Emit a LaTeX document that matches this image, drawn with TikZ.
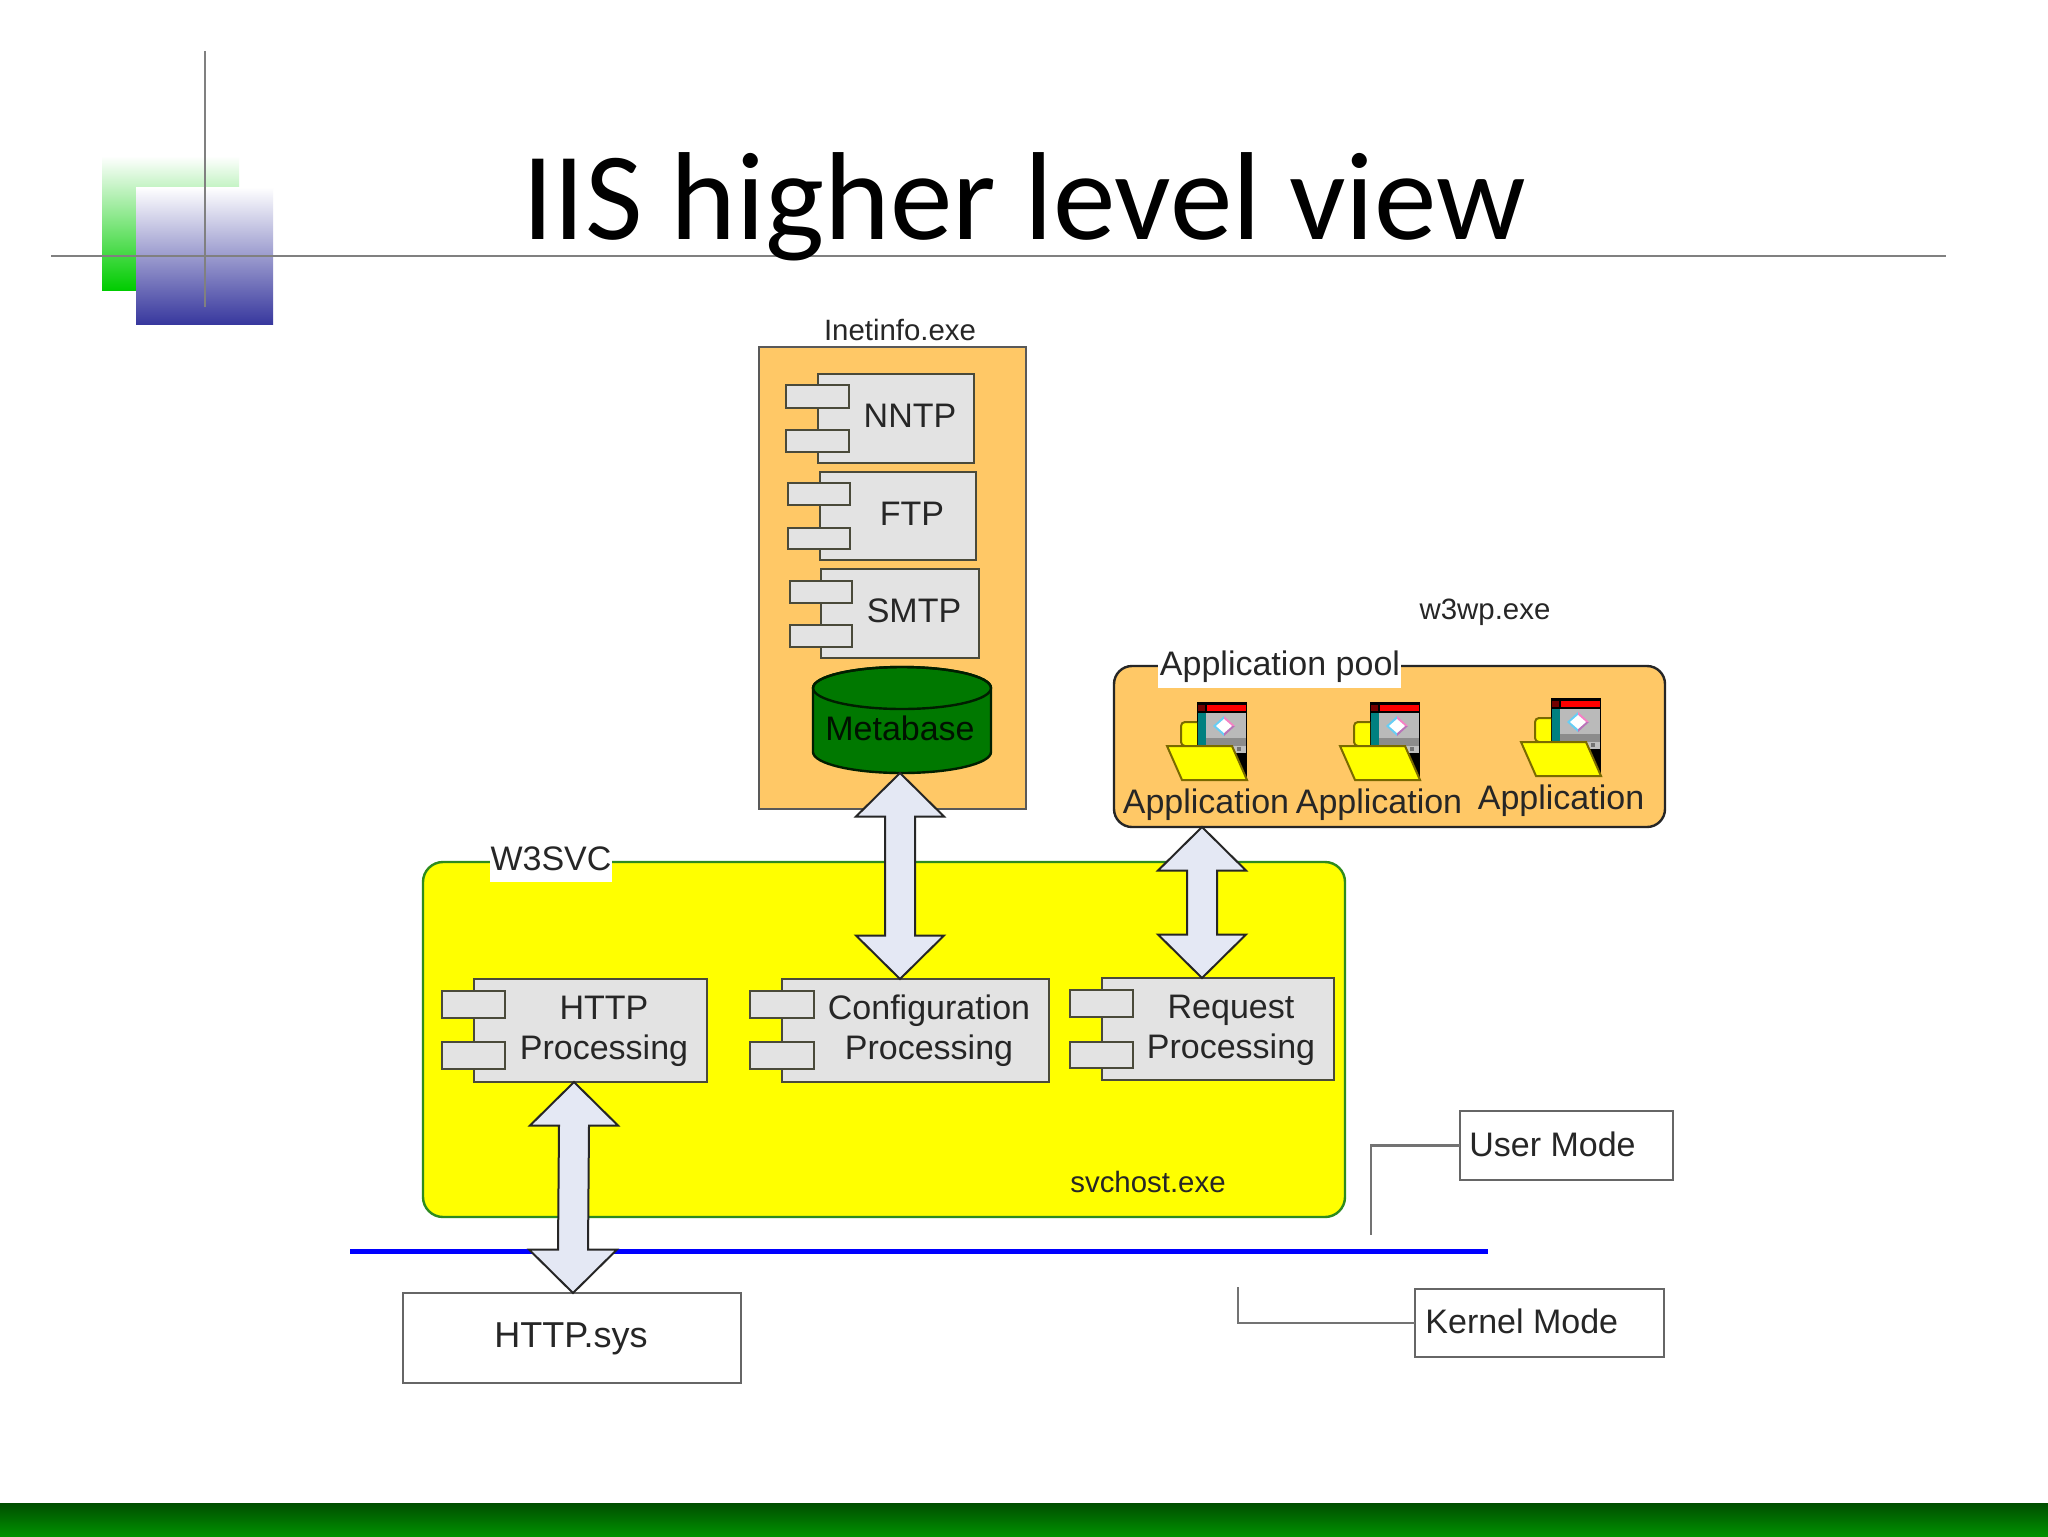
\documentclass[tikz,border=0pt]{standalone}
\usepackage{fontspec}
\setmainfont{Liberation Sans}
\newfontfamily\titlefont{Carlito}
\usetikzlibrary{calc}
\definecolor{txt}{HTML}{262626}
\definecolor{procfill}{HTML}{E3E3E3}
\definecolor{procline}{HTML}{4A4A3A}
\definecolor{orangefill}{HTML}{FFC866}
\definecolor{arrowfill}{HTML}{E4E8F4}
\definecolor{leaf}{HTML}{2E8B1E}
\definecolor{foldline}{HTML}{7A6A00}
\definecolor{pureyellow}{RGB}{255,255,0}
\definecolor{purered}{RGB}{255,0,0}
\definecolor{pureblue}{RGB}{0,0,255}
\definecolor{gridgreen}{RGB}{0,204,0}
\definecolor{barrel}{RGB}{0,120,0}
\definecolor{teal2}{RGB}{0,128,128}
\tikzset{
  x=0.5pt,y=-0.5pt,
  rectbox/.style={rectangle,inner sep=0pt,outer sep=0pt},
  procbody/.style={rectbox,draw=procline,line width=1.2pt,fill=procfill},
  proctab/.style={rectbox,draw=procline,line width=1.2pt,fill=procfill},
  plainbox/.style={rectbox,draw=black!60,line width=1.2pt,fill=white},
  lab/.style={anchor=base,inner sep=0pt,text=txt,font=\fontsize{17}{20}\selectfont},
  smalllab/.style={anchor=base,inner sep=0pt,text=txt,font=\fontsize{14.7}{18}\selectfont},
  blockarrow/.style={draw=black!85,line width=1pt,fill=arrowfill,line join=miter},
  leader/.style={draw=black!55,line width=1.2pt},
  rule/.style={draw=black!50,line width=1.2pt},
}
% name, style, x1, y1, x2, y2 (reference pixels)
\newcommand{\boxat}[6]{%
  \pgfmathsetmacro{\bw}{(#5-#3)*0.5}%
  \pgfmathsetmacro{\bh}{(#6-#4)*0.5}%
  \pgfmathsetmacro{\bx}{(#3+#5)/2}%
  \pgfmathsetmacro{\by}{(#4+#6)/2}%
  \node[#2,minimum width=\bw pt,minimum height=\bh pt] (#1) at (\bx,\by) {};}
% name, body x1,y1,x2,y2, tab x1,x2, tab1 y1,y2, tab2 y1,y2
\newcommand{\component}[6]{%
  \boxat{#1}{procbody}{#2}{#3}{#4}{#5}%
  \componenttabs{#1}#6}
\newcommand{\componenttabs}[7]{%
  \boxat{#1t1}{proctab}{#2}{#4}{#3}{#5}%
  \boxat{#1t2}{proctab}{#2}{#6}{#3}{#7}}
\newcommand{\blockarrow}[2]{%
  \draw[blockarrow] let \p1=#1, \p2=#2 in
    (\p1) -- (\x1+22pt,\y1-21.75pt) -- (\x1+7.5pt,\y1-21.75pt)
    -- (\x2+7.5pt,\y2+21.75pt) -- (\x2+22pt,\y2+21.75pt)
    -- (\p2) -- (\x2-22pt,\y2+21.75pt) -- (\x2-7.5pt,\y2+21.75pt)
    -- (\x1-7.5pt,\y1-21.75pt) -- (\x1-22pt,\y1-21.75pt) -- cycle;}
\newcommand{\appicon}[2]{%
  \begin{scope}[shift={(#1,#2)}]
    \fill[black] (30,0) rectangle (80,78);
    \fill[purered] (40,3) rectangle (79,9);
    \fill[purered!45!black] (31,3) rectangle (38,9);
    \fill[teal2] (31,11) rectangle (39,43);
    \fill[black!27] (39,11) rectangle (79,36);
    \fill[black!45] (39,36) rectangle (79,44);
    \fill[black!25] (58,44) rectangle (79,51);
    \fill[black!55] (70,45) rectangle (74,49);
    \fill[cyan!60!white] (46,24) -- (57,14) -- (57,34) -- cycle;
    \fill[magenta!50!white] (57,14) -- (68,24) -- (57,24) -- cycle;
    \fill[violet!55!white] (57,34) -- (68,24) -- (57,24) -- cycle;
    \fill[white] (49,24) -- (57,17) -- (65,24) -- (57,31) -- cycle;
    \draw[foldline,line width=1pt,fill=pureyellow,rounded corners=2pt] (30,44) -- (14,44) -- (14,20) -- (30,20);
    \draw[foldline,line width=1pt,fill=pureyellow] (0,44) -- (65,44) -- (80,78) -- (15,78) -- cycle;
  \end{scope}}
\begin{document}
\begin{tikzpicture}
\useasboundingbox (0,0) rectangle (2048,1536);
\fill[white] (0,0) rectangle (2048,1536);
% slide decoration
\shade[top color=white,bottom color=gridgreen] (102,156) rectangle (239,290);
\shade[top color=white,bottom color={rgb,255:red,56;green,56;blue,158}] (136,187) rectangle (273,324);
\coordinate (hl) at (51,256); \coordinate (hr) at (1946,256);
\coordinate (vt) at (204.7,51); \coordinate (vb) at (204.7,307);
\draw[rule] (hl) -- (hr);
\draw[rule] (vt) -- (vb);
\node[anchor=base,inner sep=0pt,font=\titlefont\fontsize{62.6}{70}\selectfont,text=black] (title) at (1024,239) {IIS higher level view};
\shade[top color={rgb,255:red,0;green,78;blue,0},bottom color={rgb,255:red,0;green,145;blue,0}] (0,1503) rectangle (2048,1536);

% W3SVC container
\node[rectbox,rounded corners=10pt,draw=leaf,line width=1.2pt,fill=pureyellow,minimum width=461pt,minimum height=177.5pt] (w3svc) at (884,1039.5) {};
\boxat{w3bg}{rectbox,fill=white}{490}{845}{612}{882}
\node[lab] (w3lab) at (551,870) {W3SVC};
\node[smalllab] (svchost) at (1148,1192) {svchost.exe};

% mode separator
\coordinate (blueL) at (350,1251); \coordinate (blueR) at (1488,1251);
\draw[pureblue,line width=2.5pt] (blueL) -- (blueR);

% Inetinfo
\boxat{inet}{rectbox,draw=black!65,line width=1.2pt,fill=orangefill}{759}{347}{1026}{809}
\node[smalllab] (inetlab) at (900,340) {Inetinfo.exe};
\component{nntp}{818}{374}{974}{463}{{786}{849}{385}{408}{430}{452}}
\component{ftp}{820}{472}{976}{560}{{788}{850}{483}{505}{528}{549}}
\component{smtp}{821}{569}{979}{658}{{790}{852}{581}{603}{625}{647}}
\node[lab] (nntplab) at (910,427) {NNTP};
\node[lab] (ftplab) at (912,525) {FTP};
\node[lab] (smtplab) at (914,622) {SMTP};

% Metabase cylinder
\draw[black!75!barrel,line width=1.2pt,fill=barrel] (813,688) -- (813,752) arc[start angle=180,end angle=0,x radius=89,y radius=21] -- (991,688) arc[start angle=0,end angle=-180,x radius=89,y radius=21] -- cycle;
\draw[black!75!barrel,line width=1.2pt] (902,688) ellipse[x radius=89,y radius=21];
\boxat{metabase}{rectbox}{813}{667}{991}{773}
\node[lab,text=black!85!barrel] (metalab) at (900,740) {Metabase};

% Application pool
\node[rectbox,rounded corners=9pt,draw=black!85,line width=1.2pt,fill=orangefill,minimum width=275.5pt,minimum height=80.5pt] (pool) at (1389.5,746.5) {};
\boxat{poolbg}{rectbox,fill=white}{1158}{652}{1401}{688}
\node[lab] (poollab) at (1280,675) {Application pool};
\node[smalllab] (w3wp) at (1485,619) {w3wp.exe};
\appicon{1167}{702}
\appicon{1340}{702}
\appicon{1521}{698}
\node[lab] (app1) at (1206,813) {Application};
\node[lab] (app2) at (1379,813) {Application};
\node[lab] (app3) at (1561,809) {Application};

% processing components
\component{http}{474}{979}{707}{1082}{{442}{505}{991}{1018}{1042}{1069}}
\component{config}{782}{979}{1049}{1082}{{750}{814}{991}{1018}{1042}{1069}}
\component{request}{1102}{978}{1334}{1080}{{1070}{1133}{990}{1017}{1042}{1068}}
\node[lab] (httplab1) at (604,1019) {HTTP};
\node[lab] (httplab2) at (604,1059) {Processing};
\node[lab] (cfglab1) at (929,1019) {Configuration};
\node[lab] (cfglab2) at (929,1059) {Processing};
\node[lab] (reqlab1) at (1231,1018) {Request};
\node[lab] (reqlab2) at (1231,1058) {Processing};

% bottom boxes
\boxat{sys}{plainbox}{403}{1293}{741}{1383}
\node[lab,font=\fontsize{18}{20}\selectfont] (syslab) at (571,1347) {HTTP.sys};
\boxat{user}{plainbox}{1460}{1111}{1673}{1180}
\node[lab,anchor=base west] (userlab) at (1469,1156) {User Mode};
\boxat{kernel}{plainbox}{1415}{1289}{1664}{1357}
\node[lab,anchor=base west] (kernellab) at (1425,1333) {Kernel Mode};
\coordinate (uend) at (1371,1235);
\coordinate (kend) at (1238,1287);
\draw[leader] (user.west) -| (uend);
\draw[leader] (kernel.west) -| (kend);

% block arrows
\blockarrow{($(metabase.south)+(-2,0)$)}{($(config.north west)+(118,0)$)}
\blockarrow{($(pool.south west)+(88,0)$)}{($(request.north west)+(100,0)$)}
\blockarrow{($(http.south west)+(100,0)$)}{($(sys.north)+(1,0)$)}
\end{tikzpicture}
\end{document}
